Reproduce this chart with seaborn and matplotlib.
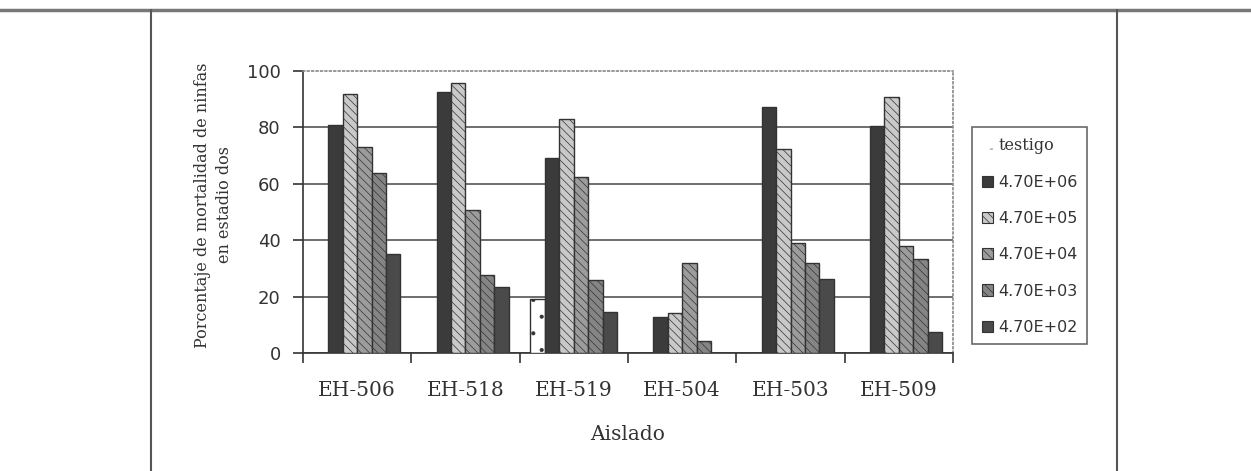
import numpy as np
import pandas as pd
import seaborn as sns
import matplotlib
import matplotlib.pyplot as plt
from matplotlib.patches import Patch
from matplotlib.lines import Line2D

matplotlib.use("agg")

# data
aislados = ["EH-506", "EH-518", "EH-519", "EH-504", "EH-503", "EH-509"]
dosis = ["testigo", "4.70E+06", "4.70E+05", "4.70E+04", "4.70E+03", "4.70E+02"]
testigo = [0, 0, 19.3, 0, 0, 0]
d06 = [81.0, 92.6, 69.0, 12.8, 87.3, 80.6]
d05 = [91.7, 95.9, 83.0, 14.3, 72.5, 90.6]
d04 = [72.9, 50.7, 62.5, 32.0, 39.1, 38.0]
d03 = [63.9, 27.5, 25.8, 4.1, 31.8, 33.4]
d02 = [35.0, 23.5, 14.5, 0, 26.1, 7.3]
yticks = [0, 20, 40, 60, 80, 100]

series = [testigo, d06, d05, d04, d03, d02]
df = pd.DataFrame(
    [
        {"aislado": a, "dosis": d, "valor": v}
        for d, vals in zip(dosis, series)
        for a, v in zip(aislados, vals)
    ]
)

colores = ["#ffffff", "#3b3b3b", "#c9c9c9", "#9c9c9c", "#858585", "#4a4a4a"]
tramas = [".", "", "\\\\\\\\", "\\\\\\\\", "\\\\\\\\", ""]

sns.set_style("white")
plt.rcParams["hatch.linewidth"] = 0.5
plt.rcParams["hatch.color"] = "#444444"

fig = plt.figure(figsize=(12.51, 4.71), dpi=100)
ax = fig.add_axes([0.2422, 0.2505, 0.5196, 0.5988])

sns.barplot(
    data=df,
    x="aislado",
    y="valor",
    hue="dosis",
    hue_order=dosis,
    order=aislados,
    palette=colores,
    saturation=1,
    width=0.8,
    errorbar=None,
    edgecolor="#333333",
    linewidth=1,
    legend=False,
    ax=ax,
    zorder=3,
)

for cont, trama in zip(ax.containers, tramas):
    for p in cont:
        p.set_hatch(trama)

ax.set_ylim(0, 100)
ax.set_xlim(-0.5, len(aislados) - 0.5)
ax.set_yticks(yticks)
ax.yaxis.grid(True, color="#555555", linewidth=1.2, zorder=0)
ax.get_ygridlines()[-1].set_visible(False)
ax.set_axisbelow(True)

for s in ["top", "right"]:
    ax.spines[s].set_linestyle(":")
    ax.spines[s].set_color("#888888")
    ax.spines[s].set_linewidth(1.2)
for s in ["left", "bottom"]:
    ax.spines[s].set_color("#333333")
    ax.spines[s].set_linewidth(1.2)

ax.set_xticks(range(len(aislados)))
ax.set_xticklabels(aislados, family="DejaVu Serif", fontsize=14.5, color="#333333")
ax.set_xticks(np.arange(-0.5, len(aislados), 1), minor=True)
ax.tick_params(axis="x", which="major", length=0, pad=20)
ax.tick_params(axis="x", which="minor", length=7, width=1.2, color="#333333",
               direction="out", bottom=True)
ax.tick_params(axis="y", length=7, width=1.2, color="#333333", direction="out",
               left=True, pad=9, labelsize=13, labelcolor="#333333")

ax.set_xlabel("Aislado", family="DejaVu Serif", fontsize=14.5, color="#333333",
              labelpad=18)
ax.set_ylabel("Porcentaje de mortalidad de ninfas\nen estadio dos",
              family="DejaVu Serif", fontsize=11.5, color="#333333",
              linespacing=1.4)
ax.yaxis.set_label_coords(-0.108, 0.525)

handles = [
    Patch(facecolor=c, edgecolor="#333333" if t != "." else "#bbbbbb", hatch=t,
          linewidth=0.8 if t != "." else 0)
    for c, t in zip(colores, tramas)
]
leg = ax.legend(
    handles, dosis,
    loc="upper left",
    bbox_to_anchor=(972 / 1251, 1 - 127 / 471),
    bbox_transform=fig.transFigure,
    frameon=True, fancybox=False,
    fontsize=11.5,
    handlelength=0.7, handleheight=0.7, handletextpad=0.35,
    labelspacing=1.33, borderpad=0.6, borderaxespad=0,
)
leg.get_frame().set_edgecolor("#444444")
leg.get_frame().set_linewidth(1.2)
for t in leg.get_texts():
    t.set_color("#333333")
leg.get_texts()[0].set_family("DejaVu Serif")

# surrounding table frame
fig.add_artist(Line2D([0, 1], [1 - 10 / 471] * 2, transform=fig.transFigure,
                      color="#777777", linewidth=2.5))
for xp in [151, 1117]:
    fig.add_artist(Line2D([xp / 1251] * 2, [0, 1 - 10 / 471], transform=fig.transFigure,
                          color="#555555", linewidth=1.5))

fig.savefig("out.png", dpi=100)
